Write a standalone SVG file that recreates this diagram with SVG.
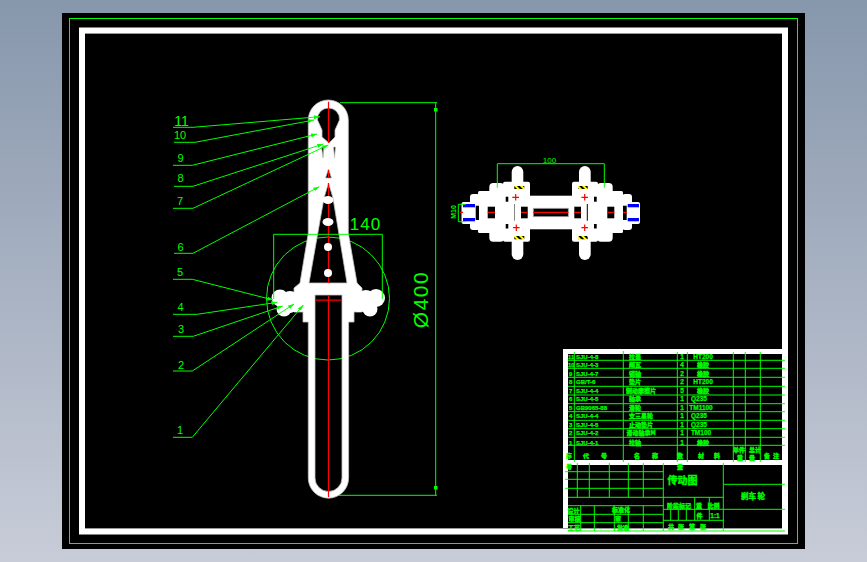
<svg xmlns="http://www.w3.org/2000/svg" width="867" height="562" viewBox="0 0 867 562">
<style>
.g{stroke:#0f0;fill:none;stroke-width:1}
.r{stroke:#f00;fill:none;stroke-width:1.2}
.w{fill:#fff}
.k{fill:#000}
.b{fill:#00f}
.l{font:13px "Liberation Sans",sans-serif;fill:#0f0;text-anchor:middle}
.t{font:bold 6px "Liberation Sans","Noto Sans CJK SC",sans-serif;fill:#0f0;stroke:#0f0;stroke-width:.25}
.c{font:bold 6px "Noto Sans CJK SC",sans-serif;fill:#0f0;stroke:#0f0;stroke-width:.4;text-anchor:middle}
.m{font:bold 6.5px "Liberation Sans","Noto Sans CJK SC",sans-serif;fill:#0f0;stroke:#0f0;stroke-width:.25;text-anchor:middle}
</style>
<defs>
<linearGradient id="bg" x1="0" y1="0" x2="0" y2="1"><stop offset="0" stop-color="#8797ac"/><stop offset="1" stop-color="#c8ccd8"/></linearGradient>
<marker id="a" markerUnits="userSpaceOnUse" markerWidth="6" markerHeight="4" refX="6" refY="2" orient="auto"><path d="M0 0L6 2L0 4Z" fill="#0f0"/></marker>
<pattern id="h" width="4" height="4" patternUnits="userSpaceOnUse" patternTransform="rotate(-45)"><rect width="4" height="4" fill="#000"/><rect width="2" height="4" fill="#ff0"/></pattern>
</defs>
<rect width="867" height="562" fill="url(#bg)"/>
<rect x="62" y="13" width="743" height="536" fill="#000"/>
<rect x="69.5" y="18.5" width="728" height="525" class="g"/>
<path id="frame" class="w" fill-rule="evenodd" d="M79 27.5H788V534.5H79ZM85 33.5V528.5H782V33.5Z"/>
<path d="M85 33.5H782M85 528.5H782" stroke="#999" stroke-width="1" fill="none"/>

<g id="main-view">
<circle cx="328" cy="298.5" r="61.5" class="g"/>
<path class="w" stroke="#c4c4c4" stroke-width=".8" fill-rule="evenodd" d="M308.3 120A20 20 0 0 1 348.3 120V233L357 283L362 288V312H354V322H348.6V478A20 20 0 0 1 308.3 478V322H303V312H294V288L300 283L308.3 233ZM315 295H342V478A13.5 13.5 0 0 1 315 478ZM328.5 183L333 198L347 283H309L324 198ZM328.5 108A11 11 0 0 1 339.5 120L335 130V137L329 143L322 137V130L317.5 120A11 11 0 0 1 328.5 108ZM321.5 147L324 147L323 158ZM333.5 147L335.5 147L334.5 158ZM328.5 169L331.5 178H325.5Z"/>
<g id="blobs">
<circle class="w" cx="280" cy="298" r="8.5"/><circle class="w" cx="290" cy="299" r="8"/><circle class="w" cx="284" cy="309" r="7.5"/><circle class="w" cx="296" cy="305" r="7"/><circle class="w" cx="290" cy="307" r="6"/>
<circle class="w" cx="376" cy="298" r="9"/><circle class="w" cx="366" cy="298" r="8"/><circle class="w" cx="370" cy="309" r="7.5"/><circle class="w" cx="359" cy="305" r="7"/><circle class="w" cx="364" cy="306" r="6"/>
</g>
<path class="r" d="M328.5 101.7V143M328.5 170V178M328.5 183V283M328.5 295V497M315 300.2H342"/>
<ellipse class="w" cx="328" cy="200" rx="5.5" ry="4"/><ellipse class="w" cx="328" cy="222" rx="5.5" ry="4"/><circle class="w" cx="328" cy="247" r="4"/><circle class="w" cx="328" cy="273" r="4"/>
</g>

<g id="connectors">
<path class="g" marker-end="url(#a)" d="M173 127.3H193L320 116.7"/>
<path class="g" marker-end="url(#a)" d="M174 142.3H195L314 120"/>
<path class="g" marker-end="url(#a)" d="M173 165.3H192.3L317 134"/>
<path class="g" marker-end="url(#a)" d="M174 186.3H193L323.3 144"/>
<path class="g" marker-end="url(#a)" d="M173 208.3H193L328.3 145"/>
<path class="g" marker-end="url(#a)" d="M174 253.3H193L319.3 186.7"/>
<path class="g" marker-end="url(#a)" d="M173 279.3H192.3L273.3 300"/>
<path class="g" marker-end="url(#a)" d="M173 314.3H197.3L277.3 302.3"/>
<path class="g" marker-end="url(#a)" d="M173 336.3H193.3L282.7 306"/>
<path class="g" marker-end="url(#a)" d="M173 371H192.3L294 304"/>
<path class="g" marker-end="url(#a)" d="M173 437.3H192.3L303.3 305"/>
</g>

<g id="labels">
<text class="l" x="181.5" y="125.5" style="font-size:14px;font-weight:normal">11</text>
<text class="l" x="180" y="138.5" style="font-size:11px">10</text>
<text class="l" x="180.5" y="162" style="font-size:11px">9</text>
<text class="l" x="180.5" y="182" style="font-size:11px">8</text>
<text class="l" x="180" y="204.5" style="font-size:11px">7</text>
<text class="l" x="180.5" y="251" style="font-size:11px">6</text>
<text class="l" x="180" y="275.5" style="font-size:11px">5</text>
<text class="l" x="180.5" y="310.5" style="font-size:11px">4</text>
<text class="l" x="181" y="332.5" style="font-size:11px">3</text>
<text class="l" x="181" y="368.5" style="font-size:11px">2</text>
<text class="l" x="180" y="434" style="font-size:11px">1</text>
</g>

<g id="dimensions">
<path class="g" d="M340 102.7H437M339 495.3H437M435.7 102.7V495.3"/>
<rect x="434" y="108" width="3.5" height="3.5" fill="#0f0"/><rect x="434" y="486" width="3.5" height="3.5" fill="#0f0"/>
<text transform="translate(428 299.5) rotate(-90)" text-anchor="middle" style="font:21px 'Liberation Sans',sans-serif;fill:#0f0;letter-spacing:1.5px">Ø400</text>
<path class="g" d="M273.7 299V234.3H382.3V299"/>
<text x="365.5" y="229.5" text-anchor="middle" style="font:17px 'Liberation Sans',sans-serif;fill:#0f0;letter-spacing:1px">140</text>
</g>

<g id="side-view">
<rect class="w" x="530" y="195.7" width="42" height="33.6"/>
<rect class="w" x="503" y="181.7" width="27" height="60" rx="2"/><rect class="w" x="511.7" y="166" width="11.6" height="94" rx="5.8"/>
<rect class="w" x="572" y="181.7" width="26" height="60" rx="2"/><rect class="w" x="579" y="166" width="11.7" height="94" rx="5.8"/>
<rect class="w" x="489.3" y="183" width="15" height="58.7" rx="4"/><rect class="w" x="597" y="183" width="15.7" height="58.7" rx="4"/>
<rect class="w" x="478" y="191" width="13" height="42" rx="1.5"/><rect class="w" x="611" y="191" width="12" height="42" rx="1.5"/>
<rect class="w" x="470" y="194" width="10" height="36" rx="3"/><rect class="w" x="622" y="194" width="10" height="36" rx="3"/>
<rect class="w" x="461.5" y="202" width="10" height="22" rx="2"/><rect class="w" x="630" y="202" width="10" height="22" rx="2"/>
<rect class="b" x="463" y="204" width="12" height="3.3"/><rect class="b" x="463" y="218" width="12" height="3.3"/>
<rect class="b" x="627.7" y="204" width="11.3" height="3.3"/><rect class="b" x="627.7" y="218" width="11.3" height="3.3"/>
<g class="k">
<rect x="475.7" y="205.7" width="3.3" height="14.3"/><rect x="487.7" y="206.7" width="7.3" height="11.6"/><rect x="521" y="206.7" width="6.7" height="11.6"/>
<rect x="533.3" y="208.3" width="35" height="8.4" stroke="#aaa" stroke-width=".8"/><rect x="574.3" y="206.7" width="6.7" height="11.6"/><rect x="607.3" y="206.7" width="7" height="11.6"/><rect x="623" y="205.7" width="3.7" height="14.3"/>
<rect x="505.7" y="196.7" width="2.6" height="5"/><rect x="505.7" y="224" width="2.6" height="4.5"/><rect x="594" y="196.7" width="2.7" height="5"/><rect x="594" y="224" width="2.7" height="4.5"/>
<rect x="586.8" y="204" width="1" height="16.7"/>
</g>
<rect x="514" y="204" width="1" height="16.7" fill="#888"/>
<path class="r" d="M460 212.3H463M487.7 212.3H495M521 212.3H527.7M533.3 212.3H568.3M574.3 212.3H581M607.3 212.3H614.3M623 212.3H626.7"/>
<path class="r" d="M512.3 197.3H519M515.7 194V200.6M513 227.7H519.6M516.3 224.4V231M581.4 197.3H588M584.7 194V200.6M581.4 227.7H588M584.7 224.4V231"/>
<rect x="514.3" y="186" width="10" height="3" fill="url(#h)"/><rect x="578.3" y="186" width="9.4" height="3" fill="url(#h)"/><rect x="514.3" y="236" width="10" height="3.3" fill="url(#h)"/><rect x="578.3" y="236" width="9.4" height="3.3" fill="url(#h)"/>
<path class="g" d="M497.3 187.7V163.7H604.3V187.7" stroke-width="1.2"/>
<path class="g" d="M465.7 204.3H458.3V221.7H465.7"/>
<text x="549.5" y="163" text-anchor="middle" style="font:8px 'Liberation Sans',sans-serif;fill:#0f0">100</text>
<text transform="translate(456 212) rotate(-90)" text-anchor="middle" style="font:bold 7px 'Liberation Sans',sans-serif;fill:#0f0">M10</text>
</g>

<g id="title-block">
<path class="w" d="M563 349H782V354H568V460H782V465H568V528H563Z"/>
<path class="g" d="M568 360.3H785M568 368.3H785M568 377.3H785M568 386.3H785M568 395H785M568 403.7H785M568 411.7H785M568 420.3H785M568 428.7H785M568 437.3H785M568 445.3H785"/>
<path class="g" d="M574.3 352V462M623.3 351V462M677.3 352V462M687.3 352V462M733.3 352V462M745.3 352V462M760.3 352V462"/>
<path class="g" d="M565 471.7H663.3M565 479.3H663.3M565 488.3H663.3M568 497.3H723.3M568 505.7H663.3M568 514.3H663.3M568 522.7H663.3M568 531H785"/>
<path class="g" d="M577.3 463V497.3M589.3 463V497.3M609.3 463V497.3M628.3 463V497.3M643.3 463V497.3M580.7 505.7V531M594.3 505.7V531M614.3 505.7V531M628.3 505.7V531M643.3 505.7V531M663.3 463V531M723.3 463V531"/>
<path class="g" d="M723.3 484.3H785M663.3 509.3H785M663.3 520.3H723.3M694.7 497.3V520.3M709.3 497.3V520.3M670.7 509.3V520.3M678.3 509.3V520.3M686.3 509.3V520.3"/>
<g id="parts-list">
<text class="t" x="568" y="358.5">11</text><text class="t" x="576" y="358.5">SJU-4-8</text><text class="c" x="635" y="358.5">拉盖</text><text class="m" x="682" y="358.5">1</text><text class="m" x="703" y="358.5">HT200</text>
<text class="t" x="568" y="367">10</text><text class="t" x="576" y="367">SJU-4-3</text><text class="c" x="635" y="367">闸瓦</text><text class="m" x="682" y="367">4</text><text class="c" x="703" y="367">橡胶</text>
<text class="t" x="569" y="375.5">9</text><text class="t" x="576" y="375.5">SJU-4-7</text><text class="c" x="635" y="375.5">销轴</text><text class="m" x="682" y="375.5">2</text><text class="c" x="703" y="375.5">橡胶</text>
<text class="t" x="569" y="384.2">8</text><text class="t" x="576" y="384.2">GB/T-6</text><text class="c" x="635" y="384.2">垫片</text><text class="m" x="682" y="384.2">2</text><text class="m" x="703" y="384.2">HT200</text>
<text class="t" x="569" y="392.5">7</text><text class="t" x="576" y="392.5">SJU-4-4</text><text class="c" x="641" y="392.5">制动摩擦片</text><text class="m" x="682" y="392.5">5</text><text class="c" x="703" y="392.5">橡胶</text>
<text class="t" x="569" y="400.8">6</text><text class="t" x="576" y="400.8">SJU-4-5</text><text class="c" x="635" y="400.8">轴承</text><text class="m" x="682" y="400.8">1</text><text class="m" x="699" y="400.8">Q235</text>
<text class="t" x="569" y="409.5">5</text><text class="t" x="576" y="409.5">GB9065-88</text><text class="c" x="635" y="409.5">滑轮</text><text class="m" x="682" y="409.5">1</text><text class="m" x="701" y="409.5">TM1100</text>
<text class="t" x="569" y="418.2">4</text><text class="t" x="576" y="418.2">SJU-4-4</text><text class="c" x="641" y="418.2">支三星轮</text><text class="m" x="682" y="418.2">1</text><text class="m" x="699" y="418.2">Q235</text>
<text class="t" x="569" y="426.8">3</text><text class="t" x="576" y="426.8">SJU-4-5</text><text class="c" x="641" y="426.8">止动垫片</text><text class="m" x="682" y="426.8">1</text><text class="m" x="699" y="426.8">Q235</text>
<text class="t" x="569" y="435.2">2</text><text class="t" x="576" y="435.2">SJU-4-2</text><text class="c" x="641" y="435.2">滑动轴承M</text><text class="m" x="682" y="435.2">1</text><text class="m" x="701" y="435.2">TM100</text>
<text class="t" x="569" y="444.5">1</text><text class="t" x="576" y="444.5">SJU-4-1</text><text class="c" x="635" y="444.5">拉轴</text><text class="m" x="682" y="444.5">1</text><text class="c" x="703" y="444.5">橡胶</text>
</g>
<g id="title-text">
<text class="c" x="569" y="458">序</text><text class="c" x="586" y="458">代</text><text class="c" x="604" y="458">号</text><text class="c" x="637" y="458">名</text><text class="c" x="655" y="458">称</text><text class="c" x="680" y="458">数</text><text class="c" x="701" y="458">材</text><text class="c" x="717" y="458">料</text>
<text class="c" x="739" y="451.5">单件</text><text class="c" x="755" y="451.5">总计</text><text class="c" x="740" y="460">重</text><text class="c" x="752" y="460">量</text><text class="c" x="767" y="458">备</text><text class="c" x="776" y="458">注</text>
<text class="c" x="569" y="469">号</text><text class="c" x="680" y="469">量</text>
<text class="c" x="682.5" y="484" style="font-size:10px">传动图</text>
<text class="c" x="753" y="499" style="font-size:7.5px">刹车 轮</text>
<text class="c" x="679" y="507.5">阶段标记</text><text class="c" x="699" y="507.5">重</text><text class="c" x="713.5" y="507.5">比例</text>
<text class="c" x="699.5" y="518">件</text><text class="m" x="715" y="518">1:1</text>
<text class="c" x="671" y="529">共</text><text class="c" x="681" y="529">张</text><text class="c" x="692" y="529">第</text><text class="c" x="703" y="529">张</text>
<text class="c" x="573.5" y="512.5">设计</text><text class="c" x="574.5" y="521">审核</text><text class="c" x="574" y="530">工艺</text>
<text class="c" x="621" y="512">标准化</text><text class="c" x="618" y="520.5">审</text><text class="c" x="623" y="530">批准</text>
</g>
</g>
</svg>
